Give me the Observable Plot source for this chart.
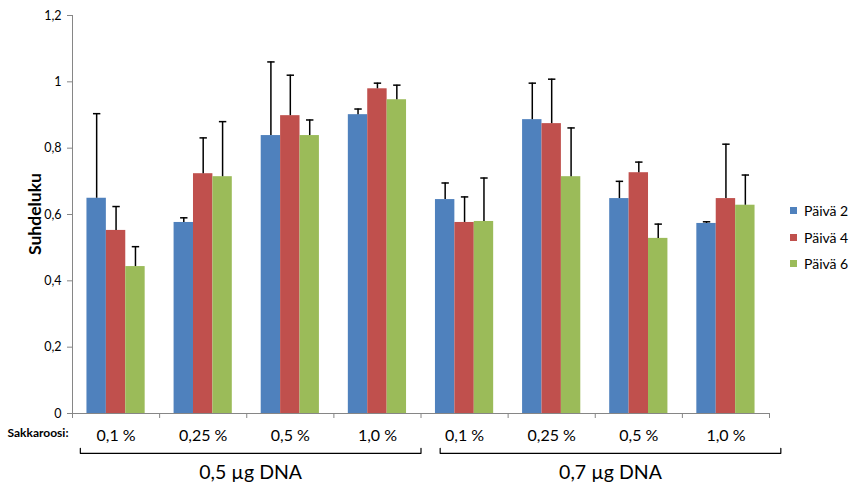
<!DOCTYPE html>
<html><head><meta charset="utf-8">
<script src="https://cdn.jsdelivr.net/npm/d3@7"></script>
<script src="https://cdn.jsdelivr.net/npm/@observablehq/plot@0.6"></script>
<style>
body{margin:0;background:#fff;}
#wrap{position:relative;width:864px;height:502px;font-family:Lato,sans-serif;}
#legend{position:absolute;left:790px;top:197px;}
.item{display:flex;align-items:center;height:26.7px;font-size:14px;color:#000;}
.sw{width:7px;height:7px;margin-right:7px;}
#ylabel{position:absolute;left:35px;top:214px;transform:translate(-50%,-50%) rotate(-90deg);font-size:17.5px;font-weight:bold;color:#000;white-space:nowrap;line-height:1;}
</style></head><body><div id="wrap"><div id="legend"></div><div id="ylabel"></div></div>
<script>
const series = ["Päivä 2", "Päivä 4", "Päivä 6"];
const colors = ["#4F81BD", "#C0504D", "#9BBB59"];
const sucrose = ["0,1 %", "0,25 %", "0,5 %", "1,0 %", "0,1 %", "0,25 %", "0,5 %", "1,0 %"];
const dnaGroups = ["0,5 µg DNA", "0,7 µg DNA"];
const bracketStart = [0.09, 4.22];
const bracketEnd = [4.0, 8.13];
const day2 = [0.649, 0.576, 0.838, 0.901, 0.645, 0.886, 0.648, 0.573];
const day4 = [0.552, 0.723, 0.898, 0.979, 0.576, 0.874, 0.726, 0.648];
const day6 = [0.443, 0.714, 0.838, 0.946, 0.579, 0.714, 0.528, 0.628];
const err2 = [0.255, 0.014, 0.222, 0.017, 0.050, 0.110, 0.052, 0.005];
const err4 = [0.072, 0.108, 0.122, 0.017, 0.077, 0.134, 0.032, 0.164];
const err6 = [0.060, 0.166, 0.047, 0.044, 0.131, 0.147, 0.043, 0.091];
const yTicks = [0, 0.2, 0.4, 0.6, 0.8, 1, 1.2];
const yLabel = "Suhdeluku";
const xTitle = "Sakkaroosi:";

const values = [day2, day4, day6];
const errs = [err2, err4, err6];
const barW = 0.2227;
const rows = [];
sucrose.forEach((c, ci) => series.forEach((s, si) => {
  const center = ci + 0.5 + (si - 1) * barW;
  rows.push({ci, si, series: s, value: values[si][ci], err: errs[si][ci], center, x1: center - barW / 2, x2: center + barW / 2});
}));

const brackets = [];
dnaGroups.forEach((g, i) => {
  brackets.push({g, x: bracketStart[i], y: -0.105});
  brackets.push({g, x: bracketStart[i], y: -0.12});
  brackets.push({g, x: bracketEnd[i], y: -0.12});
  brackets.push({g, x: bracketEnd[i], y: -0.105});
});

const capSymbol = {draw(ctx, size) { const r = Math.sqrt(size / Math.PI); ctx.moveTo(-r, 0); ctx.lineTo(r, 0); }};
const fmt = d => String(+d.toFixed(1)).replace(".", ",");
const gray = "#868686";

const chart = Plot.plot({
  width: 864, height: 502,
  marginLeft: 72, marginRight: 95, marginTop: 15, marginBottom: 89,
  style: {fontFamily: "Lato, sans-serif", color: "#000", background: "transparent", overflow: "visible"},
  x: {type: "linear", domain: [0, sucrose.length]},
  y: {domain: [0, 1.2]},
  color: {domain: series, range: colors},
  marks: [
    Plot.rect(rows, {x1: "x1", x2: "x2", y1: 0, y2: "value", fill: "series"}),
    Plot.ruleX(rows, {x: "center", y1: "value", y2: d => d.value + d.err, stroke: "#000", strokeWidth: 1.5}),
    Plot.dot(rows, {x: "center", y: d => d.value + d.err, symbol: capSymbol, r: 3.7, stroke: "#000", strokeWidth: 1.5, fill: "none"}),
    Plot.ruleX([0], {stroke: gray}),
    Plot.ruleY([0], {stroke: gray}),
    Plot.axisY({ticks: yTicks, tickFormat: fmt, tickSize: 5, tickPadding: 6, stroke: gray, fill: "#000", fontSize: 12.5, label: null}),
    Plot.axisX({ticks: d3.range(sucrose.length + 1), tickSize: 5, tickFormat: () => "", stroke: gray, label: null}),
    Plot.axisX({ticks: sucrose.map((d, i) => i + 0.5), tickSize: 0, tickPadding: 16, tickFormat: d => sucrose[Math.floor(d)], fill: "#000", fontSize: 16, label: null}),
    Plot.text([xTitle], {frameAnchor: "bottom-left", dx: -4, dy: 23, textAnchor: "end", fontSize: 12, fontWeight: "bold", fill: "#000"}),
    Plot.line(brackets, {x: "x", y: "y", z: "g", stroke: "#000", strokeWidth: 1.2}),
    Plot.text(dnaGroups, {x: (d, i) => (bracketStart[i] + bracketEnd[i]) / 2, y: -0.18, text: d => d, fontSize: 19.5, fill: "#000"})
  ]
});
document.getElementById("wrap").prepend(chart);
document.getElementById("ylabel").textContent = yLabel;

const legend = document.getElementById("legend");
series.forEach((s, i) => {
  const item = document.createElement("div");
  item.className = "item";
  const sw = document.createElement("span");
  sw.className = "sw";
  sw.style.background = colors[i];
  item.appendChild(sw);
  item.appendChild(document.createTextNode(s));
  legend.appendChild(item);
});
</script></body></html>
